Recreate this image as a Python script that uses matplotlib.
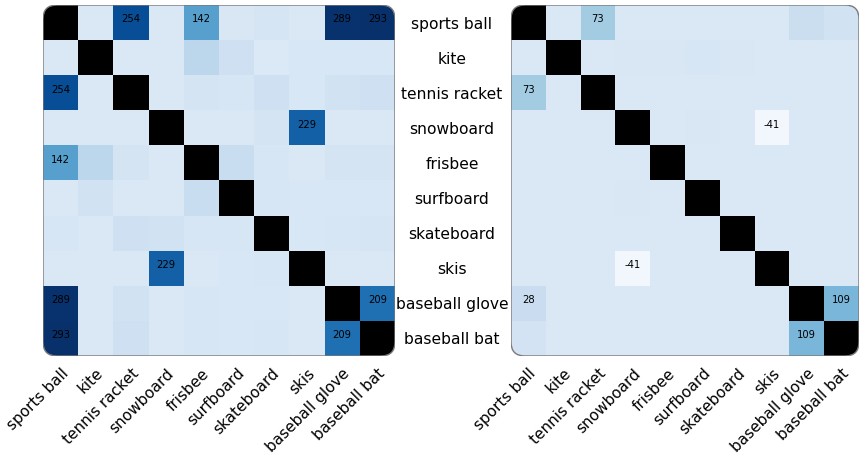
import numpy as np
import matplotlib
matplotlib.use("Agg")
import matplotlib.pyplot as plt
from matplotlib.patches import FancyBboxPatch

labels = ["sports ball", "kite", "tennis racket", "snowboard", "frisbee",
          "surfboard", "skateboard", "skis", "baseball glove", "baseball bat"]

nan = np.nan
left_values = [
    [nan, 0, 254, 0, 142, 2, 8, 0, 289, 293],
    [0, nan, 0, 0, 46, 20, -3, 3, 3, 3],
    [254, 0, nan, 0, 10, 5, 20, 3, 15, 22],
    [0, 0, 0, nan, 0, 0, 10, 229, 0, 0],
    [142, 46, 10, 0, nan, 30, 5, 0, 10, 10],
    [0, 15, 0, 0, 30, nan, 5, 3, 3, 3],
    [5, 0, 20, 15, 5, 5, nan, 3, 5, 8],
    [0, 0, 0, 229, 0, 3, 5, nan, 0, 0],
    [289, 0, 15, 0, 5, 3, 3, 0, nan, 209],
    [293, 0, 20, 0, 5, 3, 5, 0, 209, nan],
]
right_values = [
    [nan, 0, 73, 0, 0, 0, 0, 0, 26, 15],
    [0, nan, 0, 2, 2, 4, 2, 0, 0, 0],
    [73, 0, nan, 0, 0, 0, 0, 0, 0, 0],
    [0, 0, 0, nan, 0, 2, 0, -41, 0, 0],
    [0, 0, 0, 0, nan, 0, 0, 0, 0, 0],
    [0, 0, 0, 2, 0, nan, 0, 0, 0, 0],
    [0, 0, 0, 0, 0, 0, nan, 0, 0, 0],
    [0, 0, 0, -41, 0, 0, 0, nan, 0, 0],
    [28, 0, 0, 0, 0, 0, 0, 0, nan, 109],
    [12, 0, 0, 0, 0, 0, 0, 0, 109, nan],
]

VMIN, VMAX = -50, 293
cmap = plt.get_cmap("Blues").copy()
cmap.set_bad("black")

fig = plt.figure(figsize=(8.6, 4.63), dpi=100)
ax_l = fig.add_axes([43 / 860, 107 / 463, 352 / 860, 351 / 463])
ax_r = fig.add_axes([511 / 860, 107 / 463, 348 / 860, 351 / 463])


def draw(ax, values, show_ylabels):
    m = np.array(values, dtype=float)
    im = ax.imshow(np.ma.masked_invalid(m), cmap=cmap, vmin=VMIN, vmax=VMAX,
                   interpolation="nearest", aspect="auto")
    frame = FancyBboxPatch((0, 0), 1, 1, boxstyle="round,pad=0,rounding_size=0.04",
                           transform=ax.transAxes, facecolor="none",
                           edgecolor="#7a7a7a", linewidth=1.0, zorder=5)
    ax.add_patch(frame)
    im.set_clip_path(frame)
    for s in ax.spines.values():
        s.set_visible(False)
    limit = 0.25 * np.nanmax(np.abs(m))
    n = m.shape[0]
    for i in range(n):
        for j in range(n):
            v = m[i, j]
            if not np.isnan(v) and abs(v) > limit:
                ax.text(j, i - 0.09, f"{int(v)}", ha="center", va="center",
                        fontsize=7.2, color="black", zorder=6)
    ax.set_xticks(range(n))
    ax.set_xticklabels(labels, rotation=45, ha="right", rotation_mode="anchor",
                       fontsize=11)
    ax.set_yticks(range(n))
    if show_ylabels:
        ax.set_yticklabels(labels, ha="center", fontsize=11.2)
        ax.tick_params(axis="y", length=0, pad=42.5)
    else:
        ax.set_yticklabels([])
        ax.tick_params(axis="y", length=0)
    ax.tick_params(axis="x", length=0, pad=7)


draw(ax_l, left_values, False)
draw(ax_r, right_values, True)

fig.savefig("out.png", dpi=100)
